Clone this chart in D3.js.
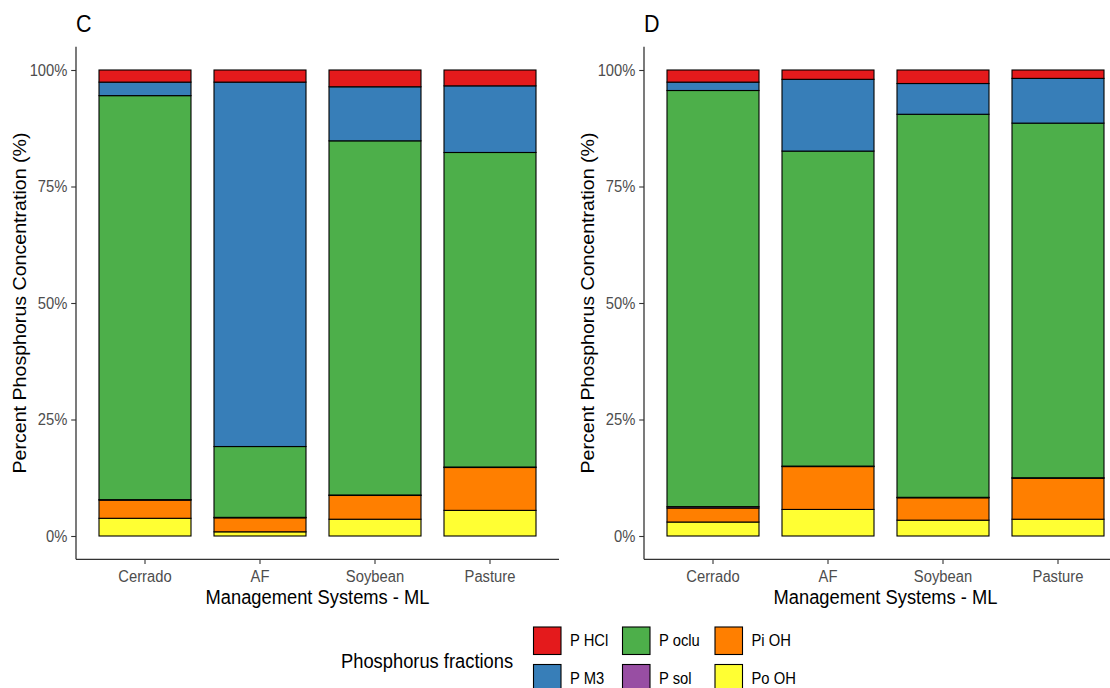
<!DOCTYPE html>
<html>
<head>
<meta charset="utf-8">
<script src="https://cdn.jsdelivr.net/npm/d3@7"></script>
<style>
  html, body { margin: 0; padding: 0; background: #fff; }
  svg { display: block; font-family: "Liberation Sans", Arial, sans-serif; }
</style>
</head>
<body>
<svg id="chart" width="1110" height="688"></svg>
<script>
// Management systems on the x axis
const categories = ["Cerrado", "AF", "Soybean", "Pasture"];

// Phosphorus fractions, legend order (top of stack first)
const fractions = ["P HCl", "P M3", "P oclu", "P sol", "Pi OH", "Po OH"];
const fractionColors = ["#E41A1C", "#377EB8", "#4DAF4A", "#984EA3", "#FF7F00", "#FFFF33"];

// Panel C: share of each fraction (%) per system
const cPHCl = [2.6, 2.6, 3.6, 3.4];
const cPM3  = [2.9, 78.2, 11.6, 14.3];
const cPoclu = [86.7, 15.2, 76.0, 67.5];
const cPsol = [0.1, 0.1, 0.1, 0.1];
const cPiOH = [3.9, 3.0, 5.1, 9.2];
const cPoOH = [3.8, 0.9, 3.6, 5.5];

// Panel D: share of each fraction (%) per system
const dPHCl = [2.6, 2.0, 2.9, 1.8];
const dPM3  = [1.8, 15.4, 6.6, 9.6];
const dPoclu = [89.3, 67.6, 82.2, 76.1];
const dPsol = [0.3, 0.1, 0.1, 0.1];
const dPiOH = [3.0, 9.2, 4.8, 8.8];
const dPoOH = [3.0, 5.7, 3.4, 3.6];

const yTicks = [0, 0.25, 0.5, 0.75, 1];
const yTickLabels = ["0%", "25%", "50%", "75%", "100%"];

// text is drawn slightly condensed horizontally
const SX = 0.935;
const TICK_FS = 15.8;
const TITLE_FS = 19.6;

const svg = d3.select("#chart");
const color = d3.scaleOrdinal().domain(fractions).range(fractionColors);

function hText(parent, x, y, str, size, anchor, fill) {
  return parent.append("text")
    .attr("transform", `translate(${x},${y}) scale(${SX},1)`)
    .attr("text-anchor", anchor)
    .attr("font-size", size)
    .attr("fill", fill)
    .text(str);
}

function buildRows(series) {
  return categories.map((c, i) => {
    const row = { system: c };
    fractions.forEach((f, k) => { row[f] = series[k][i]; });
    return row;
  });
}

function drawPanel(opts) {
  const { left, right, top, bottom, tag, series } = opts;
  const rows = buildRows(series);

  // discrete x scale with 0.6-unit expansion on each side
  const step = (right - left) / (categories.length - 1 + 1.2);
  const x = d3.scaleBand()
    .domain(categories)
    .range([left + 0.1 * step, right - 0.1 * step])
    .paddingInner(0.2)
    .paddingOuter(0.1);

  // continuous y with 5% expansion
  const y = d3.scaleLinear().domain([-0.05, 1.05]).range([bottom, top]);

  // stacking: last legend entry sits at the bottom
  const stackKeys = fractions.slice().reverse();
  const stacked = d3.stack().keys(stackKeys).offset(d3.stackOffsetExpand)(rows);

  const g = svg.append("g");

  g.selectAll("g.layer")
    .data(stacked)
    .join("g")
    .attr("class", "layer")
    .attr("fill", d => color(d.key))
    .selectAll("rect")
    .data(d => d)
    .join("rect")
    .attr("x", d => x(d.data.system))
    .attr("width", x.bandwidth())
    .attr("y", d => y(d[1]))
    .attr("height", d => y(d[0]) - y(d[1]))
    .attr("stroke", "#000")
    .attr("stroke-width", 1.1);

  // y axis
  const yAxis = d3.axisLeft(y)
    .tickValues(yTicks)
    .tickFormat((d, i) => yTickLabels[i])
    .tickSize(4.8)
    .tickPadding(3);
  const ya = g.append("g").attr("transform", `translate(${left},0)`).call(yAxis);
  ya.select(".domain").remove();
  ya.selectAll(".tick line").attr("stroke", "#333").attr("stroke-width", 1.1);
  ya.selectAll(".tick text")
    .attr("fill", "#4D4D4D").attr("font-size", TICK_FS).attr("dy", "0.34em")
    .attr("x", -8.6 / SX)
    .attr("transform", `scale(${SX},1)`);
  g.append("line").attr("x1", left).attr("x2", left).attr("y1", top).attr("y2", bottom)
    .attr("stroke", "#333").attr("stroke-width", 1.3);

  // x axis
  const xAxis = d3.axisBottom(x).tickSize(4.8).tickPadding(4);
  const xa = g.append("g").attr("transform", `translate(0,${bottom})`).call(xAxis);
  xa.select(".domain").remove();
  xa.selectAll(".tick line").attr("stroke", "#333").attr("stroke-width", 1.1);
  xa.selectAll(".tick text")
    .attr("fill", "#4D4D4D").attr("font-size", TICK_FS).attr("dy", "0.85em")
    .attr("transform", `scale(${SX},1)`);
  g.append("line").attr("x1", left).attr("x2", right).attr("y1", bottom).attr("y2", bottom)
    .attr("stroke", "#333").attr("stroke-width", 1.3);

  // axis titles
  hText(g, (left + right) / 2, 604, "Management Systems - ML", TITLE_FS, "middle", "#000");
  g.append("text")
    .attr("transform", `translate(${left - 50},${(top + bottom) / 2}) rotate(-90) scale(1,${SX})`)
    .attr("text-anchor", "middle").attr("font-size", TITLE_FS).attr("fill", "#000")
    .text("Percent Phosphorus Concentration (%)");

  // panel tag
  hText(g, left, 32, tag, 23, "start", "#000");
}

drawPanel({
  left: 76, right: 559, top: 46.7, bottom: 559.3, tag: "C",
  series: [cPHCl, cPM3, cPoclu, cPsol, cPiOH, cPoOH]
});
drawPanel({
  left: 644, right: 1127, top: 46.7, bottom: 559.3, tag: "D",
  series: [dPHCl, dPM3, dPoclu, dPsol, dPiOH, dPoOH]
});

// legend: two rows, filled column by column
const legend = svg.append("g");
hText(legend, 341, 668, "Phosphorus fractions", TITLE_FS, "start", "#000");

const colX = [533.5, 622.5, 715];
const rowY = [627, 664.5];
const keySize = 27.5;
fractions.forEach((f, i) => {
  const col = Math.floor(i / 2), row = i % 2;
  const kx = colX[col], ky = rowY[row];
  legend.append("rect")
    .attr("x", kx).attr("y", ky).attr("width", keySize).attr("height", keySize)
    .attr("fill", color(f)).attr("stroke", "#000").attr("stroke-width", 1.1);
  hText(legend, kx + keySize + 9, ky + keySize / 2 + 5.6, f, TICK_FS, "start", "#000");
});
</script>
</body>
</html>
